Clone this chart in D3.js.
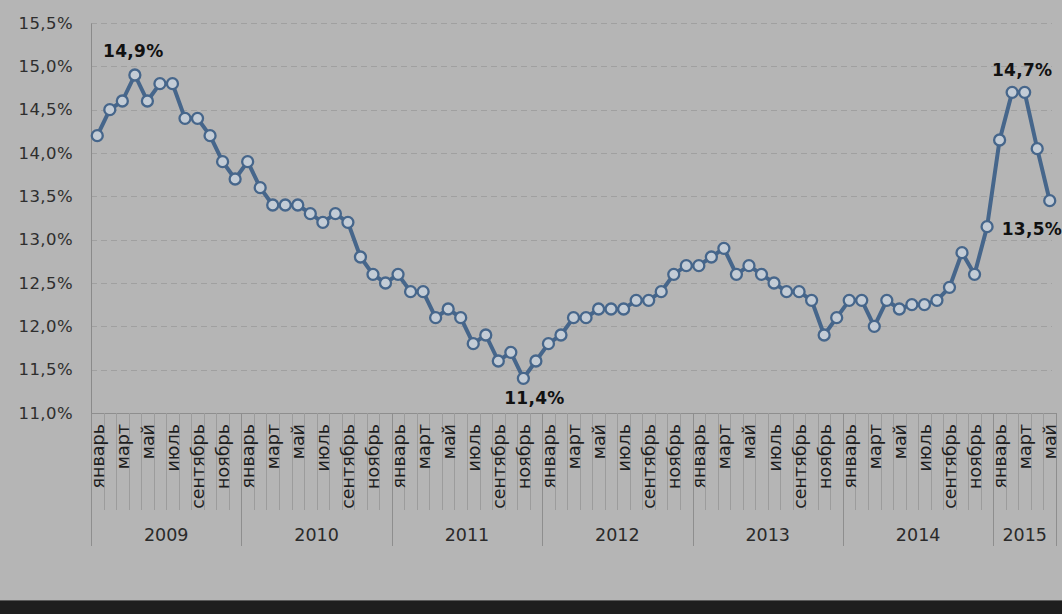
<!DOCTYPE html>
<html>
<head>
<meta charset="utf-8">
<script src="https://cdn.jsdelivr.net/npm/d3@7/dist/d3.min.js"></script>
<style>
  html, body { margin: 0; padding: 0; background: #b5b5b5; }
  svg { display: block; }
</style>
</head>
<body>
<svg id="chart" width="1062" height="614"></svg>
<script>
// ---- data ----
const years = ["2009", "2010", "2011", "2012", "2013", "2014", "2015"];
const monthLabels = ["январь", "", "март", "", "май", "", "июль", "", "сентябрь", "", "ноябрь", ""];
const rate2009 = [14.2, 14.5, 14.6, 14.9, 14.6, 14.8, 14.8, 14.4, 14.4, 14.2, 13.9, 13.7];
const rate2010 = [13.9, 13.6, 13.4, 13.4, 13.4, 13.3, 13.2, 13.3, 13.2, 12.8, 12.6, 12.5];
const rate2011 = [12.6, 12.4, 12.4, 12.1, 12.2, 12.1, 11.8, 11.9, 11.6, 11.7, 11.4, 11.6];
const rate2012 = [11.8, 11.9, 12.1, 12.1, 12.2, 12.2, 12.2, 12.3, 12.3, 12.4, 12.6, 12.7];
const rate2013 = [12.7, 12.8, 12.9, 12.6, 12.7, 12.6, 12.5, 12.4, 12.4, 12.3, 11.9, 12.1];
const rate2014 = [12.3, 12.3, 12.0, 12.3, 12.2, 12.25, 12.25, 12.3, 12.45, 12.85, 12.6, 13.15];
const rate2015 = [14.15, 14.7, 14.7, 14.05, 13.45];
const yTicks = [11.0, 11.5, 12.0, 12.5, 13.0, 13.5, 14.0, 14.5, 15.0, 15.5];
const annotations = [
  { year: "2009", month: 3, text: "14,9%", pos: "above" },
  { year: "2011", month: 10, text: "11,4%", pos: "below" },
  { year: "2015", month: 1, text: "14,7%", pos: "aboveRight" },
  { year: "2015", month: 4, text: "13,5%", pos: "belowLeft" }
];

// ---- build table ----
const seriesByYear = [rate2009, rate2010, rate2011, rate2012, rate2013, rate2014, rate2015];
const points = [];
seriesByYear.forEach((arr, yi) => {
  arr.forEach((v, mi) => {
    points.push({ key: years[yi] + "-" + mi, year: years[yi], month: mi, label: monthLabels[mi], value: v });
  });
});

// ---- layout ----
const svg = d3.select("#chart");
const mLeft = 91, mRight = 1056, mTop = 23, mBottom = 413;
const x = d3.scaleBand().domain(points.map(d => d.key)).range([mLeft, mRight]).padding(0);
const y = d3.scaleLinear().domain([11, 15.5]).range([mBottom, mTop]);
const fmt = v => d3.format(".1f")(v).replace(".", ",") + "%";
const font = "'DejaVu Sans', Verdana, sans-serif";

// bottom dark strip
svg.append("rect").attr("x", 0).attr("y", 601).attr("width", 1062).attr("height", 13).attr("fill", "#1e1e1e");
svg.append("line").attr("x1", 0).attr("x2", 1062).attr("y1", 600.5).attr("y2", 600.5).attr("stroke", "#5a5a5a");

// gridlines
svg.append("g").selectAll("line").data(yTicks.filter(t => t > 11)).join("line")
  .attr("x1", mLeft).attr("x2", mRight - 4)
  .attr("y1", d => Math.round(y(d)) + 0.5).attr("y2", d => Math.round(y(d)) + 0.5)
  .attr("stroke", "#a0a0a0").attr("stroke-width", 1).attr("stroke-dasharray", "6,4");

// y axis
const yAxis = svg.append("g").attr("transform", `translate(${mLeft},0)`)
  .call(d3.axisLeft(y).tickValues(yTicks).tickSize(0).tickPadding(18).tickFormat(fmt));
yAxis.select(".domain").attr("stroke", "#8a8a8a");
yAxis.selectAll("text").attr("font-family", font).attr("font-size", 16.5)
  .attr("letter-spacing", 0.4).attr("fill", "#2e2e2e");

// x axis baseline
svg.append("line").attr("x1", mLeft).attr("x2", mRight)
  .attr("y1", mBottom + 0.5).attr("y2", mBottom + 0.5).attr("stroke", "#8e8e8e");

// category separators
const bw = x.bandwidth();
svg.append("g").selectAll("line").data(points.slice(1).filter(d => d.month !== 0)).join("line")
  .attr("x1", d => Math.round(x(d.key)) + 0.5).attr("x2", d => Math.round(x(d.key)) + 0.5)
  .attr("y1", mBottom).attr("y2", 510)
  .attr("stroke", "#9c9c9c").attr("stroke-width", 1);
// year separators
const yearStarts = points.filter(d => d.month === 0);
svg.append("g").selectAll("line").data(yearStarts).join("line")
  .attr("x1", d => Math.round(x(d.key)) + 0.5).attr("x2", d => Math.round(x(d.key)) + 0.5)
  .attr("y1", mBottom).attr("y2", 546)
  .attr("stroke", "#8e8e8e").attr("stroke-width", 1);
svg.append("line").attr("x1", mRight + 0.5).attr("x2", mRight + 0.5)
  .attr("y1", mBottom).attr("y2", 546).attr("stroke", "#8e8e8e");

// month labels
svg.append("g").selectAll("text").data(points.filter(d => d.label)).join("text")
  .attr("transform", d => `translate(${x(d.key) + bw / 2 + 6.5},424) rotate(-90)`)
  .attr("text-anchor", "end")
  .attr("font-family", font).attr("font-size", 17.5).attr("fill", "#1e1e1e")
  .text(d => d.label);

// year labels
svg.append("g").selectAll("text").data(years).join("text")
  .attr("x", (yr) => {
    const pts = points.filter(p => p.year === yr);
    const x0 = x(pts[0].key), x1 = x(pts[pts.length - 1].key) + bw;
    return (x0 + x1) / 2;
  })
  .attr("y", 541)
  .attr("text-anchor", "middle")
  .attr("font-family", font).attr("font-size", 17.5).attr("fill", "#2a2a2a")
  .text(d => d);

// line
const cx = d => x(d.key) + bw / 2;
svg.append("path").datum(points)
  .attr("d", d3.line().x(cx).y(d => y(d.value)))
  .attr("fill", "none").attr("stroke", "#46668b").attr("stroke-width", 4)
  .attr("stroke-linejoin", "round");

// markers
svg.append("g").selectAll("circle").data(points).join("circle")
  .attr("cx", cx).attr("cy", d => y(d.value)).attr("r", 5.5)
  .attr("fill", "#c3ccd6").attr("stroke", "#46668b").attr("stroke-width", 2.3);

// annotations
const offsets = {
  above: { dx: -1.5, dy: -18, anchor: "middle" },
  below: { dx: 11, dy: 26, anchor: "middle" },
  aboveRight: { dx: 10, dy: -16, anchor: "middle" },
  belowLeft: { dx: -48, dy: 34, anchor: "start" }
};
svg.append("g").selectAll("text").data(annotations).join("text")
  .attr("x", a => {
    const p = points.find(d => d.year === a.year && d.month === a.month);
    return cx(p) + offsets[a.pos].dx;
  })
  .attr("y", a => {
    const p = points.find(d => d.year === a.year && d.month === a.month);
    return y(p.value) + offsets[a.pos].dy;
  })
  .attr("text-anchor", a => offsets[a.pos].anchor)
  .attr("font-family", font).attr("font-size", 17).attr("font-weight", "bold").attr("fill", "#111")
  .attr("letter-spacing", 0.3)
  .text(a => a.text);
</script>
</body>
</html>
